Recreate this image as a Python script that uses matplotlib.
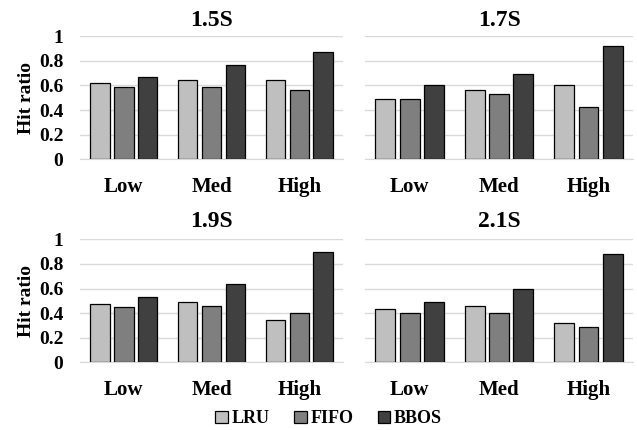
import numpy as np
import matplotlib.pyplot as plt
from matplotlib.patches import Patch

plt.rcParams['font.family'] = ['Liberation Serif', 'DejaVu Serif']
plt.rcParams['font.weight'] = 'bold'
plt.rcParams['axes.labelweight'] = 'bold'

# data
loads = ['Low', 'Med', 'High']
titles = ['1.5S', '1.7S', '1.9S', '2.1S']
policies = ['LRU', 'FIFO', 'BBOS']

lru = [[0.62, 0.64, 0.645],
       [0.49, 0.56, 0.60],
       [0.475, 0.49, 0.345],
       [0.43, 0.455, 0.32]]
fifo = [[0.585, 0.585, 0.56],
        [0.49, 0.53, 0.425],
        [0.45, 0.46, 0.405],
        [0.40, 0.40, 0.285]]
bbos = [[0.665, 0.765, 0.867],
        [0.60, 0.695, 0.92],
        [0.535, 0.64, 0.895],
        [0.49, 0.60, 0.88]]

colors = ['#bfbfbf', '#7f7f7f', '#404040']

fig = plt.figure(figsize=(6.37, 4.30), dpi=100)

# axes boxes in figure fractions [left, bottom, width, height]
boxes = [[0.1256, 0.6295, 0.413, 0.2867],
         [0.573, 0.6295, 0.421, 0.2867],
         [0.1256, 0.1574, 0.413, 0.286],
         [0.573, 0.1574, 0.421, 0.286]]

x = np.arange(len(loads))
w = 0.222
off = 0.272

for k in range(4):
    ax = fig.add_axes(boxes[k])
    series = [lru[k], fifo[k], bbos[k]]
    for j in range(3):
        ax.bar(x + (j - 1) * off, series[j], w, color=colors[j],
               edgecolor='black', linewidth=0.9, zorder=3)
    ax.set_xlim(-0.5, 2.5)
    ax.set_ylim(0, 1)
    ax.set_yticks([0, 0.2, 0.4, 0.6, 0.8, 1])
    ax.set_xticks(x)
    ax.set_xticklabels(loads, fontsize=15, fontweight='bold')
    ax.grid(axis='y', color='#d9d9d9', linewidth=1, zorder=0)
    for s in ['top', 'right', 'left']:
        ax.spines[s].set_visible(False)
    ax.spines['bottom'].set_color('#d9d9d9')
    ax.tick_params(axis='both', length=0)
    ax.tick_params(axis='x', pad=13)
    ax.tick_params(axis='y', pad=12)
    if k % 2 == 0:
        ax.set_yticklabels(['0', '0.2', '0.4', '0.6', '0.8', '1'],
                           fontsize=14, fontweight='bold')
        ax.set_ylabel('Hit ratio', fontsize=14, fontweight='bold', labelpad=3)
    else:
        ax.set_yticklabels([])
    ax.set_title(titles[k], fontsize=17, fontweight='bold', pad=7 if k < 2 else 9)

handles = [Patch(facecolor=colors[j], edgecolor='black', linewidth=0.9) for j in range(3)]
fig.legend(handles, policies, loc='center', bbox_to_anchor=(0.516, 0.026), ncol=3,
           frameon=False, prop={'size': 13, 'weight': 'bold'}, handlelength=0.7,
           handleheight=0.7, handletextpad=0.2, columnspacing=1.35)

fig.savefig('out.png', dpi=100)
